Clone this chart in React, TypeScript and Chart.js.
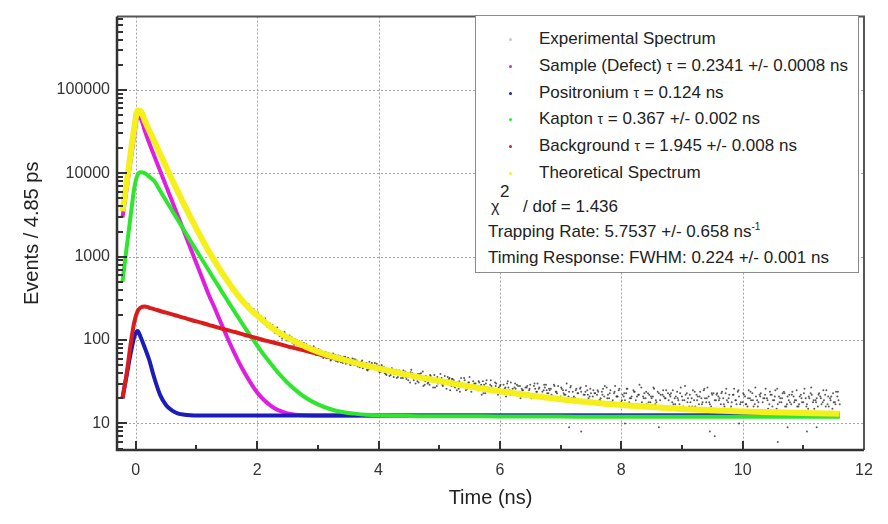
import { useEffect, useRef } from 'react';
import { Chart, registerables } from 'chart.js';

Chart.register(...registerables);

const FONT = "'Liberation Sans', Arial, Helvetica, sans-serif";

// ---- axes ----
const X_MIN = -0.31;
const X_MAX = 12;
const Y_MIN = 4.8;
const Y_MAX = 755000;
const X_TICKS = [0, 2, 4, 6, 8, 10, 12];
const X_MINOR = [1, 3, 5, 7, 9, 11];
const Y_TICKS = [10, 100, 1000, 10000, 100000];
const Y_DECADES = [1, 10, 100, 1000, 10000, 100000];
const Y_MINOR_STEPS = [2, 3, 4, 5, 6, 7, 8, 9];

// ---- fitted curves (time in ns, counts per 4.85 ps bin) ----
const CURVE_T = [
  -0.22, -0.15, -0.08, -0.02, 0.03, 0.08, 0.15, 0.22,
  0.3, 0.4, 0.5, 0.6, 0.7, 0.8, 0.9, 1.0,
  1.1, 1.2, 1.3, 1.4, 1.5, 1.6, 1.7, 1.8, 1.9, 2.0,
  2.1, 2.2, 2.3, 2.4, 2.5, 2.6,
  2.8, 3.0, 3.2, 3.4, 3.6, 3.8, 4.0,
  4.5, 5.0, 5.5, 6.0, 6.5, 7.0, 7.5, 8.0, 8.5, 9.0, 9.5, 10.0, 10.5, 11.0,
  11.6,
];
const THEORY = [
  3500, 7800, 18400, 37000, 56500, 55500, 42300, 32500,
  24700, 17000, 11900, 8300, 5850, 4150, 2970, 2150,
  1575, 1165, 885, 675, 525, 412, 332, 272, 228, 198,
  170, 148, 131, 118, 107, 98,
  83, 72.5, 64.5, 58.8, 53.7, 49.3, 45.6,
  38, 32.2, 27.7, 24.3, 21.6, 19.5, 17.9, 16.6, 15.7, 14.9, 14.4, 13.9, 13.6, 13.3,
  13.1,
];
const SAMPLE = [
  2950, 6500, 15000, 30000, 47000, 45500, 32000, 23200,
  16400, 10700, 7000, 4570, 2980, 1945, 1270, 828,
  540, 352, 242, 162, 110, 76, 54, 39.6, 30, 23.5,
  19.5, 16.8, 15.0, 13.9, 13.2, 12.8,
  12.5, 12.4, 12.4, 12.4, 12.4, 12.4, 12.4,
  12.4, 12.4, 12.4, 12.4, 12.4, 12.4, 12.4, 12.4, 12.4, 12.4, 12.4, 12.4, 12.4, 12.4,
  12.4,
];
const KAPTON = [
  500, 1300, 3300, 7000, 9600, 10300, 10000, 9100,
  8100, 6150, 4670, 3540, 2690, 2040, 1550, 1180,
  900, 685, 523, 399, 306, 235, 181, 140, 109, 86,
  68, 55, 44.4, 36.6, 30.7, 26.3,
  20.3, 16.9, 14.9, 13.7, 13.1, 12.7, 12.5,
  12.3, 12.2, 12.2, 12.1, 12.1, 12.1, 12.0, 12.0, 12.0, 12.0, 12.0, 12.0, 12.0, 12.0,
  12.0,
];
const BACKGROUND = [
  20, 40, 95, 170, 222, 245, 252, 244,
  235, 223, 213, 203, 193, 184, 175, 167,
  160, 152, 145, 138, 132, 126, 121, 115, 110, 105,
  100, 96, 92, 88, 84, 80.6,
  74, 68, 62, 57.5, 53, 49, 45.5,
  38, 32.2, 27.7, 24.3, 21.6, 19.5, 17.9, 16.6, 15.7, 14.9, 14.4, 13.9, 13.6, 13.3,
  13.1,
];
const POSITRONIUM = [
  20, 38, 72, 112, 128, 108, 80, 58,
  36, 22, 16.5, 14.2, 13.1, 12.7, 12.5, 12.4,
  12.4, 12.4, 12.4, 12.4, 12.4, 12.4, 12.4, 12.4, 12.4, 12.4,
  12.4, 12.4, 12.4, 12.4, 12.4, 12.4,
  12.4, 12.4, 12.4, 12.4, 12.4, 12.4, 12.4,
  12.4, 12.4, 12.4, 12.4, 12.4, 12.4, 12.4, 12.4, 12.4, 12.4, 12.4, 12.4, 12.4, 12.4,
  12.4,
];

// ---- experimental spectrum (visible part, time in ns / counts) ----
const EXP_TIME_A = [
  1.60, 1.64, 1.68, 1.72, 1.76, 1.80, 1.84, 1.88, 1.92, 1.96,
  2.00, 2.04, 2.08, 2.12, 2.16, 2.20, 2.24, 2.28, 2.32, 2.36,
  2.40, 2.44, 2.48, 2.52, 2.56, 2.60, 2.64, 2.68, 2.72, 2.76,
  2.80, 2.84, 2.88, 2.92, 2.96, 3.00, 3.04, 3.08, 3.12, 3.16,
  3.20, 3.24, 3.28, 3.32, 3.36, 3.40, 3.44, 3.48, 3.52, 3.56,
  3.60, 3.64, 3.68, 3.72, 3.76, 3.80, 3.84, 3.88, 3.92, 3.96,
  4.00, 4.04, 4.08, 4.12, 4.16, 4.20, 4.24, 4.28, 4.32, 4.36,
  4.40, 4.44, 4.48, 4.52, 4.56, 4.60, 4.64, 4.68, 4.72, 4.76,
  4.80, 4.84, 4.88, 4.92, 4.96, 5.00, 5.04, 5.08, 5.12, 5.16,
  5.20, 5.24, 5.28, 5.32, 5.36, 5.40, 5.44, 5.48, 5.52, 5.56,
  5.60, 5.64, 5.68, 5.72, 5.76, 5.80, 5.84, 5.88, 5.92, 5.96,
  6.00, 6.04, 6.08, 6.12, 6.16, 6.20, 6.24, 6.28, 6.32, 6.36,
  6.40, 6.44, 6.48, 6.52, 6.56, 6.60, 6.64, 6.68, 6.72, 6.76,
  6.80, 6.84, 6.88, 6.92, 6.96, 7.00, 7.04, 7.08, 7.12, 7.16,
  7.20, 7.24, 7.28, 7.32, 7.36, 7.40, 7.44, 7.48, 7.52, 7.56,
  7.60, 7.64, 7.68, 7.72, 7.76, 7.80, 7.84, 7.88, 7.92, 7.96,
  8.00, 8.04, 8.08, 8.12, 8.16, 8.20, 8.24, 8.28, 8.32, 8.36,
  8.40, 8.44, 8.48, 8.52, 8.56, 8.60, 8.64, 8.68, 8.72, 8.76,
  8.80, 8.84, 8.88, 8.92, 8.96, 9.00, 9.04, 9.08, 9.12, 9.16,
  9.20, 9.24, 9.28, 9.32, 9.36, 9.40, 9.44, 9.48, 9.52, 9.56,
  9.60, 9.64, 9.68, 9.72, 9.76, 9.80, 9.84, 9.88, 9.92, 9.96,
  10.00, 10.04, 10.08, 10.12, 10.16, 10.20, 10.24, 10.28, 10.32, 10.36,
  10.40, 10.44, 10.48, 10.52, 10.56, 10.60, 10.64, 10.68, 10.72, 10.76,
  10.80, 10.84, 10.88, 10.92, 10.96, 11.00, 11.04, 11.08, 11.12, 11.16,
  11.20, 11.24, 11.28, 11.32, 11.36, 11.40, 11.44, 11.48, 11.52, 11.56,
  11.60,
];
const EXP_COUNTS_A = [
  398, 392, 339, 341, 297, 288, 255, 251, 226, 224,
  207, 183, 185, 160, 161, 142, 146, 129, 133, 117,
  124, 108, 114, 99, 106, 93, 99, 87, 92, 81,
  86, 77, 83, 72, 79, 68, 74, 65, 71, 62,
  68, 60, 66, 57, 63, 55, 62, 53, 59, 56,
  50, 57, 49, 55, 47, 53, 45, 51, 49, 44,
  49, 42, 46, 39, 45, 38, 44, 41, 36, 40,
  35, 42, 37, 31, 40, 37, 32, 39, 35, 29,
  36, 29, 33, 38, 28, 32, 35, 30, 26, 34,
  28, 33, 30, 26, 35, 29, 25, 31, 27, 32,
  30, 25, 28, 32, 23, 27, 29, 26, 31, 24,
  28, 23, 26, 30, 25, 22, 27, 29, 24, 26,
  22, 27, 25, 20, 28, 24, 26, 21, 25, 29,
  23, 26, 20, 24, 28, 21, 25, 22, 19, 27,
  24, 20, 23, 26, 19, 22, 25, 21, 18, 23,
  22, 19, 24, 21, 27, 20, 18, 23, 21, 25,
  18, 21, 23, 17, 20, 25, 19, 22, 16, 21,
  20, 23, 18, 21, 17, 24, 19, 22, 20, 15,
  22, 18, 20, 24, 17, 21, 19, 23, 16, 20,
  19, 22, 17, 20, 25, 18, 21, 16, 23, 19,
  21, 17, 20, 23, 18, 15, 22, 19, 24, 17,
  18, 21, 16, 20, 23, 17, 19, 22, 14, 20,
  20, 17, 22, 19, 15, 21, 18, 24, 16, 19,
  17, 21, 19, 16, 22, 18, 20, 15, 23, 18,
  19, 16, 21, 18, 22, 17, 20, 15, 18, 21,
  17,
];
const EXP_TIME_B = [
  1.62, 1.66, 1.70, 1.74, 1.78, 1.82, 1.86, 1.90, 1.94, 1.98,
  2.02, 2.06, 2.10, 2.14, 2.18, 2.22, 2.26, 2.30, 2.34, 2.38,
  2.42, 2.46, 2.50, 2.54, 2.58, 2.62, 2.66, 2.70, 2.74, 2.78,
  2.82, 2.86, 2.90, 2.94, 2.98, 3.02, 3.06, 3.10, 3.14, 3.18,
  3.22, 3.26, 3.30, 3.34, 3.38, 3.42, 3.46, 3.50, 3.54, 3.58,
  3.62, 3.66, 3.70, 3.74, 3.78, 3.82, 3.86, 3.90, 3.94, 3.98,
  4.02, 4.06, 4.10, 4.14, 4.18, 4.22, 4.26, 4.30, 4.34, 4.38,
  4.42, 4.46, 4.50, 4.54, 4.58, 4.62, 4.66, 4.70, 4.74, 4.78,
  4.82, 4.86, 4.90, 4.94, 4.98, 5.02, 5.06, 5.10, 5.14, 5.18,
  5.22, 5.26, 5.30, 5.34, 5.38, 5.42, 5.46, 5.50, 5.54, 5.58,
  5.62, 5.66, 5.70, 5.74, 5.78, 5.82, 5.86, 5.90, 5.94, 5.98,
  6.02, 6.06, 6.10, 6.14, 6.18, 6.22, 6.26, 6.30, 6.34, 6.38,
  6.42, 6.46, 6.50, 6.54, 6.58, 6.62, 6.66, 6.70, 6.74, 6.78,
  6.82, 6.86, 6.90, 6.94, 6.98, 7.02, 7.06, 7.10, 7.14, 7.18,
  7.22, 7.26, 7.30, 7.34, 7.38, 7.42, 7.46, 7.50, 7.54, 7.58,
  7.62, 7.66, 7.70, 7.74, 7.78, 7.82, 7.86, 7.90, 7.94, 7.98,
  8.02, 8.06, 8.10, 8.14, 8.18, 8.22, 8.26, 8.30, 8.34, 8.38,
  8.42, 8.46, 8.50, 8.54, 8.58, 8.62, 8.66, 8.70, 8.74, 8.78,
  8.82, 8.86, 8.90, 8.94, 8.98, 9.02, 9.06, 9.10, 9.14, 9.18,
  9.22, 9.26, 9.30, 9.34, 9.38, 9.42, 9.46, 9.50, 9.54, 9.58,
  9.62, 9.66, 9.70, 9.74, 9.78, 9.82, 9.86, 9.90, 9.94, 9.98,
  10.02, 10.06, 10.10, 10.14, 10.18, 10.22, 10.26, 10.30, 10.34, 10.38,
  10.42, 10.46, 10.50, 10.54, 10.58, 10.62, 10.66, 10.70, 10.74, 10.78,
  10.82, 10.86, 10.90, 10.94, 10.98, 11.02, 11.06, 11.10, 11.14, 11.18,
  11.22, 11.26, 11.30, 11.34, 11.38, 11.42, 11.46, 11.50, 11.54, 11.58,
];
const EXP_COUNTS_B = [
  375, 381, 352, 306, 301, 262, 268, 231, 236, 205,
  186, 194, 163, 170, 144, 151, 130, 138, 119, 127,
  109, 119, 101, 110, 93, 103, 87, 95, 81, 88,
  75, 85, 71, 80, 68, 76, 64, 72, 61, 69,
  58, 67, 56, 65, 54, 63, 52, 61, 50, 59,
  56, 48, 54, 46, 52, 43, 50, 47, 53, 45,
  41, 48, 40, 44, 37, 46, 39, 35, 43, 38,
  41, 34, 38, 44, 33, 36, 31, 40, 28, 37,
  31, 37, 27, 34, 30, 39, 28, 33, 36, 25,
  34, 27, 31, 24, 29, 33, 26, 36, 28, 30,
  26, 31, 22, 29, 33, 25, 28, 24, 30, 27,
  24, 29, 21, 27, 31, 23, 26, 28, 20, 25,
  27, 23, 29, 22, 26, 30, 21, 24, 27, 23,
  25, 21, 28, 23, 19, 26, 22, 30, 24, 20,
  21, 26, 19, 24, 22, 28, 20, 23, 25, 18,
  24, 20, 26, 18, 22, 25, 19, 28, 21, 17,
  22, 19, 26, 20, 17, 24, 21, 29, 18, 23,
  17, 22, 20, 26, 18, 23, 15, 21, 25, 19,
  23, 17, 21, 19, 27, 16, 22, 20, 18, 25,
  16, 21, 24, 18, 20, 27, 17, 22, 19, 23,
  20, 24, 16, 19, 22, 18, 26, 17, 21, 14,
  22, 17, 25, 19, 16, 21, 18, 23, 20, 26,
  15, 22, 19, 25, 17, 20, 23, 16, 21, 18,
  24, 19, 16, 21, 18, 26, 17, 20, 22, 15,
  20, 23, 17, 19, 25, 16, 21, 18, 24, 19,
];
const EXP_TIME_C = [
  2.01, 2.05, 2.09, 2.13, 2.17, 2.21, 2.25, 2.29, 2.33, 2.37,
  2.41, 2.45, 2.49, 2.53, 2.57, 2.61, 2.65, 2.69, 2.73, 2.77,
  2.81, 2.85, 2.89, 2.93, 2.97, 3.01, 3.05, 3.09, 3.13, 3.17,
  3.21, 3.25, 3.29, 3.33, 3.37, 3.41, 3.45, 3.49, 3.53, 3.57,
  3.61, 3.65, 3.69, 3.73, 3.77, 3.81, 3.85, 3.89, 3.93, 3.97,
  4.01, 4.05, 4.09, 4.13, 4.17, 4.21, 4.25, 4.29, 4.33, 4.37,
  4.41, 4.45, 4.49, 4.53, 4.57, 4.61, 4.65, 4.69, 4.73, 4.77,
  4.81, 4.85, 4.89, 4.93, 4.97, 5.01, 5.05, 5.09, 5.13, 5.17,
  5.21, 5.25, 5.29, 5.33, 5.37, 5.41, 5.45, 5.49, 5.53, 5.57,
  5.61, 5.65, 5.69, 5.73, 5.77, 5.81, 5.85, 5.89, 5.93, 5.97,
  6.01, 6.05, 6.09, 6.13, 6.17, 6.21, 6.25, 6.29, 6.33, 6.37,
  6.41, 6.45, 6.49, 6.53, 6.57, 6.61, 6.65, 6.69, 6.73, 6.77,
  6.81, 6.85, 6.89, 6.93, 6.97, 7.01, 7.05, 7.09, 7.13, 7.17,
  7.21, 7.25, 7.29, 7.33, 7.37, 7.41, 7.45, 7.49, 7.53, 7.57,
  7.61, 7.65, 7.69, 7.73, 7.77, 7.81, 7.85, 7.89, 7.93, 7.97,
  8.01, 8.05, 8.09, 8.13, 8.17, 8.21, 8.25, 8.29, 8.33, 8.37,
  8.41, 8.45, 8.49, 8.53, 8.57, 8.61, 8.65, 8.69, 8.73, 8.77,
  8.81, 8.85, 8.89, 8.93, 8.97, 9.01, 9.05, 9.09, 9.13, 9.17,
  9.21, 9.25, 9.29, 9.33, 9.37, 9.41, 9.45, 9.49, 9.53, 9.57,
  9.61, 9.65, 9.69, 9.73, 9.77, 9.81, 9.85, 9.89, 9.93, 9.97,
  10.01, 10.05, 10.09, 10.13, 10.17, 10.21, 10.25, 10.29, 10.33, 10.37,
  10.41, 10.45, 10.49, 10.53, 10.57, 10.61, 10.65, 10.69, 10.73, 10.77,
  10.81, 10.85, 10.89, 10.93, 10.97, 11.01, 11.05, 11.09, 11.13, 11.17,
  11.21, 11.25, 11.29, 11.33, 11.37, 11.41, 11.45, 11.49, 11.53, 11.57,
];
const EXP_COUNTS_C = [
  214, 176, 169, 181, 143, 158, 151, 122, 141, 112,
  104, 125, 99, 113, 108, 88, 101, 97, 80, 92,
  89, 73, 70, 84, 66, 78, 75, 61, 72, 70,
  57, 69, 66, 55, 64, 53, 63, 61, 51, 60,
  59, 49, 47, 57, 51, 44, 55, 53, 45, 52,
  42, 50, 47, 38, 45, 43, 36, 44, 41, 35,
  43, 36, 33, 41, 38, 30, 39, 35, 42, 32,
  30, 38, 34, 27, 36, 33, 29, 37, 31, 35,
  34, 28, 25, 32, 30, 35, 27, 31, 24, 29,
  27, 32, 29, 23, 30, 26, 33, 25, 28, 22,
  29, 24, 27, 32, 22, 26, 30, 23, 28, 25,
  23, 28, 26, 21, 30, 24, 27, 22, 29, 25,
  26, 22, 29, 24, 20, 27, 23, 25, 21, 28,
  20, 25, 23, 27, 19, 24, 22, 26, 21, 23,
  25, 19, 22, 28, 20, 23, 18, 24, 21, 26,
  19, 23, 26, 18, 21, 24, 17, 22, 27, 20,
  24, 18, 21, 27, 19, 16, 22, 25, 20, 23,
  21, 25, 17, 20, 23, 19, 28, 18, 22, 16,
  24, 19, 21, 17, 26, 20, 18, 23, 15, 22,
  19, 23, 17, 26, 20, 16, 22, 19, 25, 18,
  23, 17, 20, 24, 19, 27, 16, 21, 18, 22,
  19, 24, 16, 21, 26, 18, 20, 23, 17, 22,
  22, 18, 25, 17, 20, 23, 16, 21, 27, 19,
  18, 22, 20, 25, 16, 21, 19, 23, 17, 24,
];
const EXP_LOW_TIME = [7.14, 7.34, 8.06, 8.62, 9.46, 9.54, 9.94, 10.58, 10.74, 11.06, 11.22];
const EXP_LOW_COUNTS = [9, 8, 10, 9, 8, 7, 10, 6, 9, 8, 9];

// ---- colours ----
const C_YELLOW = '#f5ef1c';
const C_MAGENTA = '#e01ee0';
const C_BLUE = '#1c1cb8';
const C_GREEN = '#2ee62e';
const C_RED = '#dc1c1c';
const C_DOTS = 'rgba(50,50,50,0.8)';

const toPoints = (xs: number[], ys: number[]) => xs.map((x, i) => ({ x, y: ys[i] }));

const decor = {
  id: 'decor',
  beforeDatasetsDraw(chart: any) {
    const { ctx, chartArea: a } = chart;
    const xs = chart.scales.x;
    const ys = chart.scales.y;
    ctx.save();
    ctx.beginPath();
    ctx.strokeStyle = '#a4a4a4';
    ctx.lineWidth = 1;
    ctx.setLineDash([2, 2]);
    X_TICKS.forEach((v) => {
      const p = Math.round(xs.getPixelForValue(v)) + 0.5;
      if (p > a.left + 2 && p < a.right - 2) {
        ctx.moveTo(p, a.top);
        ctx.lineTo(p, a.bottom);
      }
    });
    Y_TICKS.forEach((v) => {
      const p = Math.round(ys.getPixelForValue(v)) + 0.5;
      if (p > a.top + 2 && p < a.bottom - 2) {
        ctx.moveTo(a.left, p);
        ctx.lineTo(a.right, p);
      }
    });
    ctx.stroke();
    ctx.restore();
  },
  afterDatasetsDraw(chart: any) {
    const { ctx, chartArea: a } = chart;
    const xs = chart.scales.x;
    const ys = chart.scales.y;
    ctx.save();
    ctx.setLineDash([]);
    ctx.strokeStyle = '#333';
    ctx.lineWidth = 2;
    ctx.beginPath();
    X_TICKS.forEach((v) => {
      const p = Math.round(xs.getPixelForValue(v));
      ctx.moveTo(p, a.bottom);
      ctx.lineTo(p, a.bottom - 9);
    });
    X_MINOR.forEach((v) => {
      const p = Math.round(xs.getPixelForValue(v));
      ctx.moveTo(p, a.bottom);
      ctx.lineTo(p, a.bottom - 5);
    });
    Y_TICKS.forEach((v) => {
      const p = Math.round(ys.getPixelForValue(v));
      ctx.moveTo(a.left, p);
      ctx.lineTo(a.left + 10, p);
    });
    Y_DECADES.forEach((d) => {
      Y_MINOR_STEPS.forEach((s) => {
        const v = d * s;
        if (v > Y_MIN && v < Y_MAX) {
          const p = Math.round(ys.getPixelForValue(v));
          ctx.moveTo(a.left, p);
          ctx.lineTo(a.left + 6, p);
        }
      });
    });
    ctx.stroke();
    // frame
    ctx.strokeStyle = '#555';
    ctx.lineWidth = 2;
    ctx.beginPath();
    ctx.moveTo(a.left, a.top);
    ctx.lineTo(a.right, a.top);
    ctx.lineTo(a.right, a.bottom);
    ctx.stroke();
    ctx.strokeStyle = '#333';
    ctx.lineWidth = 2.5;
    ctx.beginPath();
    ctx.moveTo(a.left, a.top);
    ctx.lineTo(a.left, a.bottom);
    ctx.lineTo(a.right, a.bottom);
    ctx.stroke();
    ctx.restore();
  },
};

const curve = (label: string, ys: number[], color: string, width: number, order: number) => ({
  label,
  data: toPoints(CURVE_T, ys),
  showLine: true,
  borderColor: color,
  backgroundColor: color,
  borderWidth: width,
  pointRadius: 0,
  cubicInterpolationMode: 'monotone' as const,
  order,
});

const LEGEND_ROWS = [
  { color: '#c9c9c9', pre: 'Experimental Spectrum', post: '' },
  { color: C_MAGENTA, pre: 'Sample (Defect) ', post: ' = 0.2341 +/- 0.0008 ns', tau: true },
  { color: C_BLUE, pre: 'Positronium ', post: ' = 0.124 ns', tau: true },
  { color: C_GREEN, pre: 'Kapton ', post: ' = 0.367 +/- 0.002 ns', tau: true },
  { color: C_RED, pre: 'Background ', post: ' = 1.945 +/- 0.008 ns', tau: true },
  { color: C_YELLOW, pre: 'Theoretical Spectrum', post: '' },
];
const LEGEND_ROW_CENTERS = [23, 50, 77, 103, 130, 157];

function Legend() {
  const text: any = { position: 'absolute', whiteSpace: 'nowrap', fontFamily: FONT, fontSize: 17, lineHeight: '20px', color: '#222' };
  return (
    <div
      style={{
        position: 'absolute',
        left: 475,
        top: 15,
        width: 384,
        height: 258,
        boxSizing: 'border-box',
        background: '#fff',
        border: '1.5px solid #8a8a8a',
      }}
    >
      {LEGEND_ROWS.map((r, i) => (
        <div key={i}>
          <div
            style={{
              position: 'absolute',
              left: 33,
              top: LEGEND_ROW_CENTERS[i] - 1.5,
              width: 3,
              height: 3,
              borderRadius: 2,
              background: r.color,
            }}
          />
          <div style={{ ...text, left: 63, top: LEGEND_ROW_CENTERS[i] - 10 }}>
            {r.pre}
            {r.tau ? <span style={{ fontSize: 14 }}>τ</span> : null}
            {r.post}
          </div>
        </div>
      ))}
      <div style={{ ...text, left: 15, top: 181, fontSize: 16 }}>χ</div>
      <div style={{ ...text, left: 24, top: 166 }}>2</div>
      <div style={{ ...text, left: 47, top: 181 }}>/ dof = 1.436</div>
      <div style={{ ...text, left: 12, top: 206 }}>
        Trapping Rate: 5.7537 +/- 0.658 ns
        <span style={{ fontSize: 10, position: 'relative', top: -7 }}>-1</span>
      </div>
      <div style={{ ...text, left: 12, top: 232 }}>Timing Response: FWHM: 0.224 +/- 0.001 ns</div>
    </div>
  );
}

export default function App() {
  const ref = useRef<HTMLCanvasElement>(null);
  useEffect(() => {
    if (!ref.current) return;
    const expPoints = toPoints(EXP_TIME_A, EXP_COUNTS_A)
      .concat(toPoints(EXP_TIME_B, EXP_COUNTS_B))
      .concat(toPoints(EXP_TIME_C, EXP_COUNTS_C))
      .concat(toPoints(EXP_LOW_TIME, EXP_LOW_COUNTS));
    const chart = new Chart(ref.current, {
      type: 'scatter',
      data: {
        datasets: [
          curve('Theoretical Spectrum', THEORY, C_YELLOW, 6, 0),
          curve('Background', BACKGROUND, C_RED, 4, 1),
          curve('Kapton', KAPTON, C_GREEN, 4, 2),
          curve('Positronium', POSITRONIUM, C_BLUE, 4, 3),
          curve('Sample (Defect)', SAMPLE, C_MAGENTA, 4, 4),
          {
            label: 'Experimental Spectrum',
            data: expPoints,
            showLine: false,
            pointRadius: 1,
            pointBorderWidth: 0,
            pointBackgroundColor: C_DOTS,
            backgroundColor: C_DOTS,
            borderColor: C_DOTS,
            order: 5,
          } as any,
        ],
      },
      options: {
        animation: false,
        responsive: false,
        maintainAspectRatio: false,
        devicePixelRatio: 1,
        layout: { padding: { left: 0, top: 12, right: 24, bottom: 0 } },
        plugins: { legend: { display: false }, tooltip: { enabled: false } },
        scales: {
          x: {
            type: 'linear',
            min: X_MIN,
            max: X_MAX,
            afterBuildTicks: (s: any) => {
              s.ticks = X_TICKS.map((v) => ({ value: v }));
            },
            afterFit: (s: any) => {
              s.height = 74;
            },
            grid: { display: false, drawTicks: false, tickLength: 0 },
            border: { display: false },
            ticks: {
              autoSkip: false,
              maxRotation: 0,
              padding: 11,
              color: '#333',
              font: { family: FONT, size: 16 },
            },
            title: {
              display: true,
              text: 'Time (ns)',
              color: '#222',
              font: { family: FONT, size: 20 },
              padding: { top: 0, bottom: 14 },
            },
          },
          y: {
            type: 'logarithmic',
            min: Y_MIN,
            max: Y_MAX,
            afterBuildTicks: (s: any) => {
              s.ticks = Y_TICKS.map((v) => ({ value: v }));
            },
            afterFit: (s: any) => {
              s.width = 117;
            },
            grid: { display: false, drawTicks: false, tickLength: 0 },
            border: { display: false },
            ticks: {
              autoSkip: false,
              padding: 7,
              color: '#333',
              font: { family: FONT, size: 16 },
              callback: (v: any) => String(v),
            },
            title: {
              display: true,
              text: 'Events / 4.85 ps',
              color: '#222',
              font: { family: FONT, size: 20 },
              padding: { top: 20, bottom: 0 },
            },
          },
        },
      },
      plugins: [decor],
    });
    return () => chart.destroy();
  }, []);
  return (
    <div
      style={{ position: 'absolute', left: 0, top: 0, width: 888, height: 524, background: '#fff', overflow: 'hidden' }}
    >
      <canvas ref={ref} width={888} height={524} style={{ display: 'block', width: 888, height: 524 }} />
      <Legend />
    </div>
  );
}
